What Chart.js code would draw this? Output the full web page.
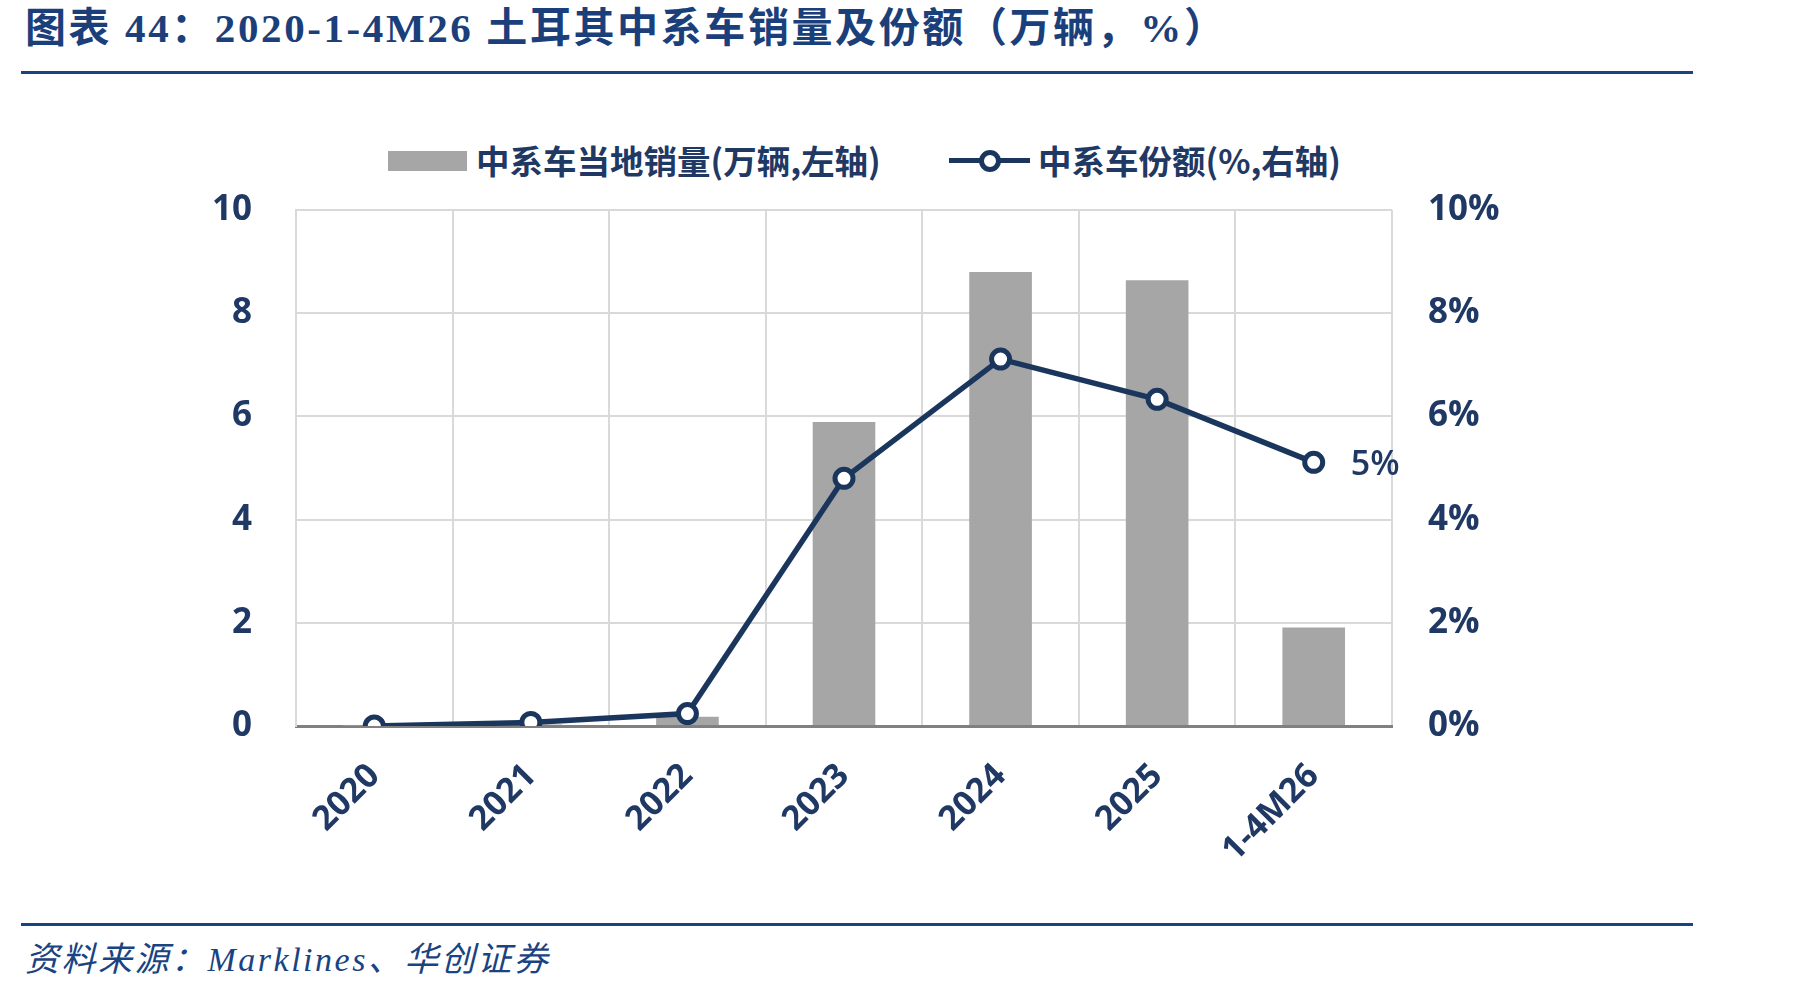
<!DOCTYPE html>
<html><head><meta charset="utf-8">
<script src="https://cdn.jsdelivr.net/npm/chart.js@4/dist/chart.umd.min.js"></script>
<style>
html,body{margin:0;padding:0;background:#fff;}
#wrap{position:relative;width:1801px;height:991px;overflow:hidden;background:#fff;}
#title{position:absolute;left:25px;top:-6px;font-family:"Liberation Serif","Noto Sans CJK SC",serif;font-weight:700;font-size:41px;color:#1b3f7a;white-space:nowrap;letter-spacing:2.6px;}
.rule{position:absolute;left:21px;width:1672px;height:3px;background:#1a4382;}
#source{position:absolute;left:25px;top:932px;font-family:"Liberation Serif","Noto Sans CJK SC",serif;font-style:italic;font-size:34px;color:#1a4382;white-space:nowrap;letter-spacing:2.5px;}
.leg{position:absolute;font-family:"Noto Sans CJK SC",sans-serif;font-weight:700;font-size:33.5px;color:#1f3864;white-space:nowrap;line-height:1;}
canvas{position:absolute;left:0;top:0;}
</style></head>
<body><div id="wrap">
<div id="title">图表 44：2020-1-4M26 土耳其中系车销量及份额（万辆，%）</div>
<div class="rule" style="top:71px"></div>
<div class="rule" style="top:923px"></div>
<div id="source">资料来源：Marklines、华创证券</div>
<div style="position:absolute;left:388px;top:151px;width:79px;height:20px;background:#a6a6a6"></div>
<div class="leg" style="left:476px;top:143px">中系车当地销量(万辆,左轴)</div>
<div style="position:absolute;left:949px;top:158px;width:81px;height:5px;background:#1b365d"></div>
<div style="position:absolute;left:979px;top:150px;width:12px;height:12px;border:5px solid #1b365d;border-radius:50%;background:#fff"></div>
<div class="leg" style="left:1038px;top:143px">中系车份额(%,右轴)</div>
<canvas id="c" width="1801" height="991"></canvas>
</div>
<script>
const categories = ["2020","2021","2022","2023","2024","2025","1-4M26"];
const salesValues = [0.01, 0.03, 0.18, 5.89, 8.80, 8.64, 1.91];
const shareValues = [0.0, 0.07, 0.24, 4.80, 7.11, 6.33, 5.11];
const leftTicks = [0, 2, 4, 6, 8, 10];
const rightTickSuffix = "%";
const lastLabel = "5%";

const navy = "#1f3864";
const tickFont = {family:"'Open Sans', sans-serif", weight:"700", size:35};

const labelPlugin = {
  id:"lastLabel",
  afterDatasetsDraw(chart){
    const meta = chart.getDatasetMeta(1);
    const pt = meta.data[meta.data.length-1];
    const ctx = chart.ctx;
    ctx.save();
    ctx.font = "600 34px 'Open Sans', sans-serif";
    ctx.fillStyle = navy;
    ctx.textAlign = "left";
    ctx.textBaseline = "middle";
    ctx.fillText(lastLabel, pt.x + 37, pt.y + 3);
    ctx.restore();
  }
};

new Chart(document.getElementById("c"), {
  data:{
    labels:categories,
    datasets:[
      {type:"bar", label:"中系车当地销量(万辆,左轴)", data:salesValues, backgroundColor:"#a6a6a6",
       barPercentage:0.4, categoryPercentage:1.0, yAxisID:"y", order:1},
      {type:"line", label:"中系车份额(%,右轴)", data:shareValues, borderColor:"#1b365d", borderWidth:5.5,
       pointRadius:9, pointBorderWidth:5, pointBackgroundColor:"#fff", pointBorderColor:"#1b365d",
       tension:0, yAxisID:"y1", order:0}
    ]
  },
  options:{
    responsive:false, animation:false,
    layout:{padding:{top:210,left:0,right:0,bottom:0}},
    plugins:{legend:{display:false}, tooltip:{enabled:false}},
    scales:{
      x:{
        grid:{offset:true, color:"#d9d9d9", lineWidth:2, drawTicks:false},
        border:{display:true, color:"#808080", width:3},
        ticks:{color:navy, font:{family:"'Open Sans', sans-serif", weight:"700", size:34}, minRotation:45, maxRotation:45, padding:30},
        afterFit(s){ s.height = 265; }
      },
      y:{
        position:"left", min:0, max:10,
        afterBuildTicks(s){ s.ticks = leftTicks.map(v=>({value:v})); },
        grid:{color:(c)=> c.tick && c.tick.value===0 ? "rgba(0,0,0,0)" : "#d9d9d9", lineWidth:2, drawTicks:false},
        border:{display:true, color:"#d9d9d9", width:2},
        ticks:{color:navy, font:tickFont, padding:44},
        afterFit(s){ s.width = 296; }
      },
      y1:{
        position:"right", min:0, max:10,
        afterBuildTicks(s){ s.ticks = leftTicks.map(v=>({value:v})); },
        grid:{display:false, drawTicks:false},
        border:{display:false},
        ticks:{color:navy, font:tickFont, padding:36, callback:(v)=> v + rightTickSuffix},
        afterFit(s){ s.width = 409; }
      }
    }
  },
  plugins:[labelPlugin]
});
</script>
</body></html>
